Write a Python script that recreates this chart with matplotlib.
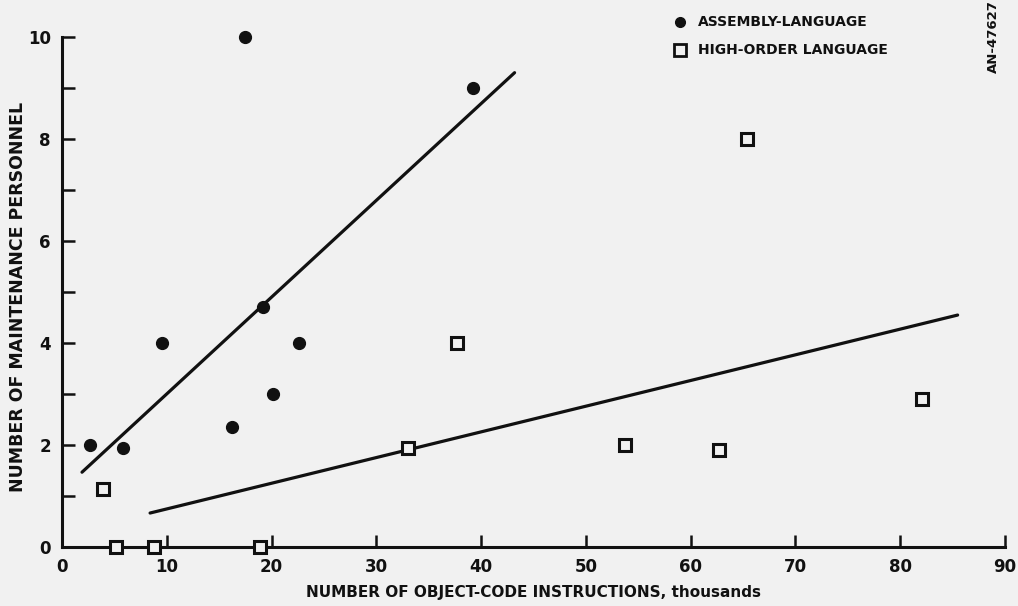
import numpy as np
import matplotlib.pyplot as plt

# object-code instructions (thousands) vs maintenance personnel
asm_x = [2.7, 5.8, 9.5, 16.2, 19.2, 20.1, 22.6, 17.5, 39.2]
asm_y = [2.0, 1.95, 4.0, 2.35, 4.7, 3.0, 4.0, 10.0, 9.0]

hol_x = [3.9, 5.1, 8.8, 18.9, 33.0, 37.7, 53.7, 62.7, 65.4, 82.1]
hol_y = [1.15, 0.0, 0.0, 0.0, 1.95, 4.0, 2.0, 1.9, 8.0, 2.9]

# fitted lines, end points
asm_fit_x = [1.9, 43.2]
asm_fit_y = [1.47, 9.3]
hol_fit_x = [8.4, 85.5]
hol_fit_y = [0.67, 4.55]

x_ticks = list(range(0, 91, 10))
y_ticks = [0, 2, 4, 6, 8, 10]

bg = '#f1f1f1'
ink = '#111111'
plt.rcParams['font.family'] = ['Liberation Sans Narrow', 'DejaVu Sans']
plt.rcParams['font.weight'] = 'bold'
plt.rcParams['axes.labelweight'] = 'bold'

fig = plt.figure(figsize=(10.18, 6.06), dpi=100, facecolor=bg)
ax = fig.add_axes([0.061, 0.097, 0.926, 0.842])
ax.set_facecolor(bg)

ax.plot(asm_fit_x, asm_fit_y, color=ink, lw=2.3, solid_capstyle='round')
ax.plot(hol_fit_x, hol_fit_y, color=ink, lw=2.3, solid_capstyle='round')

ax.plot(asm_x, asm_y, 'o', color=ink, ms=8.5, clip_on=False, zorder=3)
ax.plot(hol_x, hol_y, 's', mfc=bg, mec=ink, mew=2.2, ms=9, clip_on=False, zorder=3)

ax.set_xlim(0, 90)
ax.set_ylim(0, 10)
ax.set_xticks(x_ticks)
ax.set_yticks(y_ticks)
ax.set_yticks([1, 3, 5, 7, 9], minor=True)
ax.tick_params(direction='in', length=9, width=1.8, color=ink,
               labelsize=12, labelcolor=ink, pad=8)
ax.tick_params(axis='y', which='minor', direction='in', length=9, width=1.8, color=ink)
for s in ['top', 'right']:
    ax.spines[s].set_visible(False)
for s in ['left', 'bottom']:
    ax.spines[s].set_linewidth(2.2)
    ax.spines[s].set_color(ink)

ax.set_xlabel('NUMBER OF OBJECT-CODE INSTRUCTIONS, thousands',
              fontsize=11, color=ink, labelpad=6)
fig.text(0.018, 0.51, 'NUMBER OF MAINTENANCE PERSONNEL', fontsize=12.5,
         rotation=90, ha='center', va='center', color=ink)

# legend drawn as text with markers
ax.plot([0.668], [0.963], 'o', color=ink, ms=7, transform=fig.transFigure, clip_on=False)
ax.plot([0.668], [0.917], 's', mfc=bg, mec=ink, mew=2, ms=8, transform=fig.transFigure, clip_on=False)
fig.text(0.686, 0.963, 'ASSEMBLY-LANGUAGE', fontsize=10, va='center', color=ink)
fig.text(0.686, 0.917, 'HIGH-ORDER LANGUAGE', fontsize=10, va='center', color=ink)
fig.text(0.976, 1.0, 'AN-47627', fontsize=9.5, rotation=90, va='top', ha='center', color=ink)

fig.savefig('out.png', dpi=100, facecolor=bg)
